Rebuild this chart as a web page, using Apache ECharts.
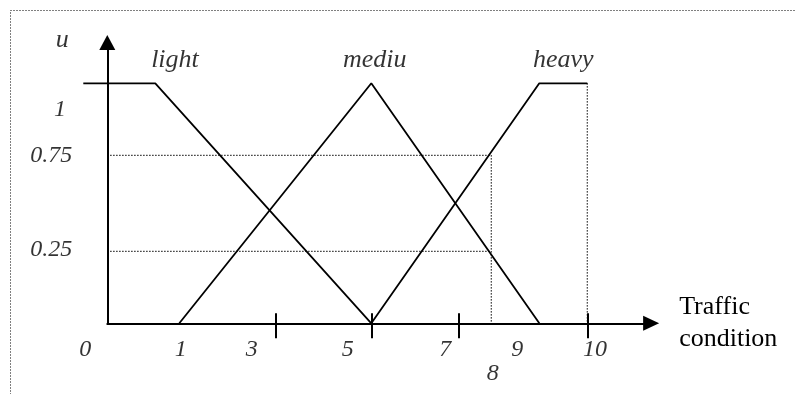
<!DOCTYPE html>
<html>
<head>
<meta charset="utf-8">
<script src="https://cdn.jsdelivr.net/npm/echarts@6/dist/echarts.min.js"></script>
<style>
html,body{margin:0;padding:0;background:#fff;}
#chart{width:795px;height:394px;}
</style>
</head>
<body>
<div id="chart"></div>
<script>
// ---- membership functions (x = traffic condition, u = membership) ----
const lightX  = [-0.5, 1, 5.5];
const lightU  = [1, 1, 0];
const mediumX = [1.5, 5.5, 9];
const mediumU = [0, 1, 0];
const heavyX  = [5.5, 9, 10];
const heavyU  = [0, 1, 1];

// ---- reading guides ----
const guideX = 8;
const guideLevels = [0.70, 0.30];
const heavyEndX = 10;

// ---- axis ticks / labels ----
const tickValues = [3.5, 5.5, 7.33, 10];
const xLabelText = ['0', '1', '3', '5', '7', '9', '10'];
const xLabelAt   = [-0.46, 1.53, 3.01, 5.01, 7.04, 8.54, 10.16];
const xLowLabelText = ['8'];
const xLowLabelAt   = [8.03];
const yLabelText = ['1', '0.75', '0.25'];
const yLabelAt   = [0.889, 0.70, 0.305];
const setNames   = ['light', 'mediu', 'heavy'];
const setNameAt  = [1.41, 5.57, 9.5];
const yAxisName  = 'u';
const xAxisName  = 'Traffic\ncondition';

// ---- layout (data-unit anchors for free text) ----
const X_MIN = -0.5, X_MAX = 11.33, Y_MAX = 1.17;
const PX_PER_X = 48, PX_PER_U = 240, ORIGIN_X = 107.3, ORIGIN_Y = 323.3;
const xRowU = -0.11, xLowRowU = -0.21;
const yLabelColX = [-0.985, -1.17, -1.17];
const setNameRowU = 1.096;
const uLabelPos = [-0.94, 1.18];

const SERIF = 'Liberation Serif';
const pairs = (xs, ys) => xs.map((x, i) => [x, ys[i]]);
const black = '#000';

const textItems = [];
xLabelText.forEach((t, i) => textItems.push({name: t, value: [xLabelAt[i], xRowU], fs: 24}));
xLowLabelText.forEach((t, i) => textItems.push({name: t, value: [xLowLabelAt[i], xLowRowU], fs: 24}));
yLabelText.forEach((t, i) => textItems.push({name: t, value: [yLabelColX[i], yLabelAt[i]], fs: 24}));
setNames.forEach((t, i) => textItems.push({name: t, value: [setNameAt[i], setNameRowU], fs: 26}));
textItems.push({name: yAxisName, value: uLabelPos, fs: 26});

const lineSeries = (name, data, width, type) => ({
  name, type: 'line', data, symbol: 'none', clip: false, silent: true,
  xAxisIndex: 0, yAxisIndex: 0,
  lineStyle: {color: black, width, type: type || 'solid'}, z: type ? 1 : 3
});

const series = [];
guideLevels.forEach((g, i) => series.push(lineSeries('guide' + i, [[0, g], [guideX, g]], 1.2, [1.2, 1.8])));
series.push(lineSeries('guideV', [[guideX, guideLevels[0]], [guideX, 0]], 1.2, [1.2, 1.8]));
series.push(lineSeries('heavyEnd', [[heavyEndX, 1], [heavyEndX, 0]], 1.2, [1.2, 1.8]));
series.push(lineSeries('light', pairs(lightX, lightU), 1.8));
series.push(lineSeries('medium', pairs(mediumX, mediumU), 1.8));
series.push(lineSeries('heavy', pairs(heavyX, heavyU), 1.8));
series.push({
  type: 'scatter', symbolSize: 0, clip: false, silent: true, xAxisIndex: 0, yAxisIndex: 0,
  data: textItems.map(d => ({name: d.name, value: d.value,
    label: {show: true, fontSize: d.fs, fontStyle: 'italic', fontFamily: SERIF, color: black}})),
  label: {show: true, position: 'inside', align: 'center', verticalAlign: 'middle',
    fontFamily: SERIF, fontStyle: 'italic', color: black, formatter: p => p.name}
});

const gridLeft = ORIGIN_X + X_MIN * PX_PER_X;
const gridRight = 795 - (ORIGIN_X + X_MAX * PX_PER_X);
const gridTop = ORIGIN_Y - Y_MAX * PX_PER_U;
const gridBottom = 394 - ORIGIN_Y;

const chart = echarts.init(document.getElementById('chart'), null, {renderer: 'canvas'});
chart.setOption({
  animation: false,
  backgroundColor: '#fff',
  grid: [
    {left: gridLeft, right: gridRight, top: gridTop, bottom: gridBottom},
    {left: ORIGIN_X, right: gridRight, top: gridTop, bottom: gridBottom}
  ],
  xAxis: [{
    gridIndex: 0, type: 'value', min: X_MIN, max: X_MAX,
    axisLine: {show: false}, axisTick: {show: false}, axisLabel: {show: false}, splitLine: {show: false}
  }, {
    gridIndex: 1, type: 'value', min: 0, max: X_MAX, position: 'bottom',
    axisLine: {show: true, onZero: false, symbol: ['none', 'triangle'], symbolSize: [15, 16],
      lineStyle: {color: black, width: 2}},
    axisTick: {show: true, customValues: tickValues, length: 15, inside: false, lineStyle: {color: black, width: 2}},
    axisLabel: {show: false}, splitLine: {show: false},
    name: xAxisName, nameLocation: 'end', nameGap: 28,
    nameTextStyle: {fontFamily: SERIF, fontSize: 26, lineHeight: 32, color: black,
      align: 'left', verticalAlign: 'middle', padding: [0, 0, 24, 0]}
  }, {
    gridIndex: 1, type: 'value', min: 0, max: X_MAX, position: 'bottom',
    axisLine: {show: false},
    axisTick: {show: true, customValues: tickValues, length: 10, inside: true, lineStyle: {color: black, width: 2}},
    axisLabel: {show: false}, splitLine: {show: false}
  }],
  yAxis: [{
    gridIndex: 0, type: 'value', min: 0, max: Y_MAX,
    axisLine: {show: false}, axisTick: {show: false}, axisLabel: {show: false}, splitLine: {show: false}
  }, {
    gridIndex: 1, type: 'value', min: 0, max: Y_MAX, position: 'left',
    axisLine: {show: true, onZero: false, symbol: ['none', 'triangle'], symbolSize: [16, 15],
      lineStyle: {color: black, width: 2}},
    axisTick: {show: false}, axisLabel: {show: false}, splitLine: {show: false}
  }],
  graphic: [{
    type: 'rect', silent: true,
    shape: {x: 10.5, y: 10.5, width: 800, height: 400},
    style: {fill: 'none', stroke: black, lineWidth: 1, lineDash: [1, 2]}
  }],
  series
});
</script>
</body>
</html>
